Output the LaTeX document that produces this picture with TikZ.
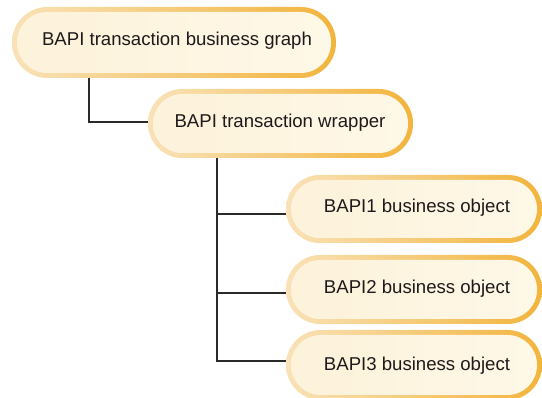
\documentclass[tikz,border=0pt]{standalone}
\usepackage{fontspec}
\setmainfont{Liberation Sans}
\begin{document}
\begin{tikzpicture}[x=1pt,y=-1pt,
  conn/.style={draw=linec,line width=2.2pt},
  lbl/.style={font=\fontsize{18.6}{22}\selectfont,text=textc,anchor=base,inner sep=0pt},
  boxnode/.style={draw=none,inner sep=0pt,rectangle}]
\definecolor{bordL}{HTML}{F9E2B8}
\definecolor{bordR}{HTML}{F2B43C}
\definecolor{fillL}{HTML}{FDF2DA}
\definecolor{fillR}{HTML}{FEF8E8}
\definecolor{linec}{HTML}{2B2A2A}
\definecolor{textc}{HTML}{1E1A1B}
\useasboundingbox (0,0) rectangle (542,398);
\clip (0,0) rectangle (542,398);
% pill macro: #1 name, #2 x1, #3 y1, #4 x2, #5 y2
\newcommand\pill[5]{%
  \pgfmathsetmacro\rr{(#5-#3)/2-0.3}%
  \pgfmathsetmacro\ri{(#5-#3)/2-5.3}%
  \shade[left color=bordL,right color=bordR,rounded corners=\rr pt] (#2,#3) rectangle (#4,#5);
  \shade[left color=fillL,right color=fillR,rounded corners=\ri pt] (#2+5,#3+5) rectangle (#4-5,#5-5);
  \node[boxnode,minimum width={#4-#2},minimum height={#5-#3}] (#1) at ({(#2+#4)/2},{(#3+#5)/2}) {};
}
\pill{b1}{12}{7}{336}{78}
\pill{b2}{148}{89}{413}{158}
\pill{b3}{286}{175}{542}{243}
\pill{b4}{286}{255}{542}{324}
\pill{b5}{286}{330}{542}{400}
\node[lbl] (t1) at (177,46) {BAPI transaction business graph};
\node[lbl] (t2) at (280,128) {BAPI transaction wrapper};
\node[lbl] (t3) at (417,213) {BAPI1 business object};
\node[lbl] (t4) at (417,294) {BAPI2 business object};
\node[lbl] (t5) at (417,371) {BAPI3 business object};
% connectors
\coordinate (j1) at ([xshift=77pt]b1.south west);
\draw[conn] (j1) |- ([yshift=1.5pt]b2.west);
\coordinate (j2) at ([xshift=69pt]b2.south west);
\coordinate (e3) at ([yshift=-5pt]b3.west);
\coordinate (e4) at ([yshift=-3.5pt]b4.west);
\coordinate (e5) at ([yshift=4pt]b5.west);
\draw[conn] (j2) |- (e5);
\draw[conn] (j2 |- e3) -- (e3);
\draw[conn] (j2 |- e4) -- (e4);
\end{tikzpicture}
\end{document}
